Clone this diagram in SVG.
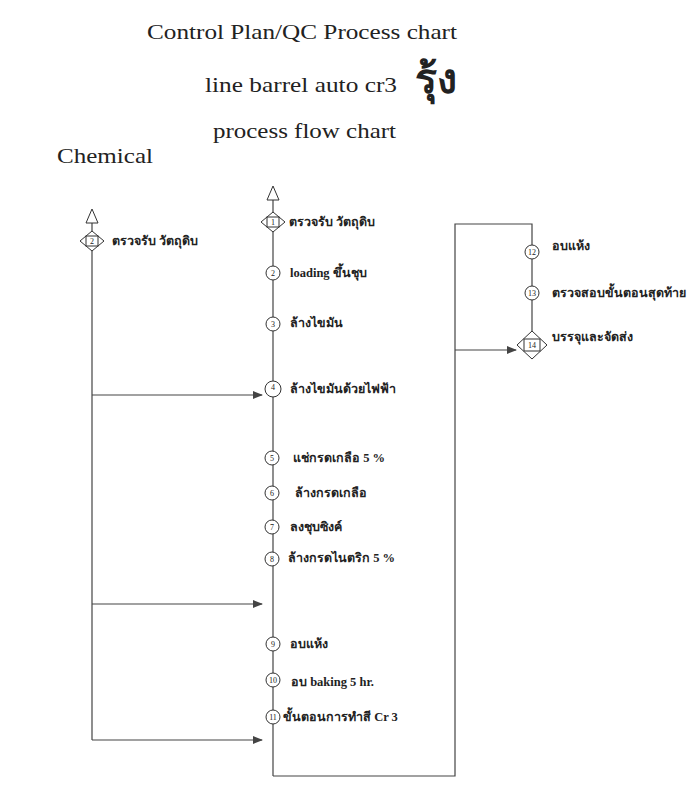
<svg xmlns="http://www.w3.org/2000/svg" width="694" height="787" viewBox="0 0 694 787">
<style>
.title{font-family:"Liberation Serif","Noto Sans CJK SC",serif;fill:#222}
.lbl{font-family:"Liberation Serif","Noto Sans CJK SC",serif;font-size:12.5px;font-weight:bold;fill:#222}
.num{font-family:"Liberation Serif",serif;font-size:8px;fill:#222;text-anchor:middle}
.ln{stroke:#444;stroke-width:1.2;fill:none}
.shp{stroke:#333;stroke-width:1;fill:#fff}
</style>
<defs>
<marker id="ah" markerWidth="10" markerHeight="8" refX="9" refY="4" orient="auto" markerUnits="userSpaceOnUse">
<path d="M0,0 L10,4 L0,8 Z" fill="#444"/>
</marker>
</defs>
<rect width="694" height="787" fill="#fff"/>
<g id="titles">
<text class="title" x="147" y="39" font-size="21" textLength="310" lengthAdjust="spacingAndGlyphs">Control Plan/QC Process chart</text>
<text class="title" x="205" y="92" font-size="21" textLength="192" lengthAdjust="spacingAndGlyphs">line barrel auto cr3</text>
<text class="title" x="415" y="93" font-size="41" font-weight="bold" fill="#000">รุ้ง</text>
<text class="title" x="213" y="138" font-size="21" textLength="183" lengthAdjust="spacingAndGlyphs">process flow chart</text>
<text class="title" x="57" y="163" font-size="21" textLength="96" lengthAdjust="spacingAndGlyphs">Chemical</text>
</g>
<g id="connectors">
<line class="ln" x1="92" y1="223" x2="92" y2="231"/>
<line class="ln" x1="92" y1="251" x2="92" y2="740"/>
<line class="ln" x1="92" y1="395" x2="262" y2="395" marker-end="url(#ah)"/>
<line class="ln" x1="92" y1="604" x2="262" y2="604" marker-end="url(#ah)"/>
<line class="ln" x1="92" y1="740" x2="262" y2="740" marker-end="url(#ah)"/>
<line class="ln" x1="273" y1="200" x2="273" y2="776"/>
<polyline class="ln" points="273,776 455,776 455,224 532,224 532,245"/>
<line class="ln" x1="532" y1="259" x2="532" y2="331"/>
<line class="ln" x1="455" y1="350" x2="516" y2="350" marker-end="url(#ah)"/>
</g>
<g id="start-chem"><polygon class="shp" points="92,209 86,223 98,223"/></g>
<g id="start-main"><polygon class="shp" points="273,186 267,200 279,200"/></g>
<g id="n-chem2">
<polygon class="shp" points="80,241 92,231 104,241 92,251"/>
<rect class="shp" x="86" y="236" width="12" height="10"/>
<text class="num" x="92" y="244">2</text>
<text class="lbl" x="112" y="245">ตรวจรับ วัตถุดิบ</text>
</g>
<g id="n1">
<polygon class="shp" points="261,222 273,212 285,222 273,232"/>
<rect class="shp" x="267" y="217" width="12" height="10"/>
<text class="num" x="273" y="225">1</text>
<text class="lbl" x="289" y="226">ตรวจรับ วัตถุดิบ</text>
</g>
<g id="n2"><circle class="shp" cx="273" cy="273" r="7"/><text class="num" x="273" y="276">2</text><text class="lbl" x="290" y="277">loading ขึ้นชุบ</text></g>
<g id="n3"><circle class="shp" cx="273" cy="324" r="7"/><text class="num" x="273" y="327">3</text><text class="lbl" x="290" y="327">ล้างไขมัน</text></g>
<g id="n4"><circle class="shp" cx="273" cy="389" r="8"/><text class="num" x="273" y="390">4</text><text class="lbl" x="290" y="393">ล้างไขมันด้วยไฟฟ้า</text></g>
<g id="n5"><circle class="shp" cx="272" cy="458" r="7"/><text class="num" x="272" y="461">5</text><text class="lbl" x="293" y="462">แช่กรดเกลือ 5 %</text></g>
<g id="n6"><circle class="shp" cx="272" cy="493" r="7"/><text class="num" x="272" y="496">6</text><text class="lbl" x="295" y="497">ล้างกรดเกลือ</text></g>
<g id="n7"><circle class="shp" cx="272" cy="527" r="7"/><text class="num" x="272" y="530">7</text><text class="lbl" x="290" y="531">ลงชุบซิงค์</text></g>
<g id="n8"><circle class="shp" cx="272" cy="559" r="7"/><text class="num" x="272" y="562">8</text><text class="lbl" x="288" y="562">ล้างกรดไนตริก 5 %</text></g>
<g id="n9"><circle class="shp" cx="273" cy="644" r="7"/><text class="num" x="273" y="647">9</text><text class="lbl" x="290" y="648">อบแห้ง</text></g>
<g id="n10"><circle class="shp" cx="273" cy="680" r="7"/><text class="num" x="273" y="683">10</text><text class="lbl" x="291" y="686">อบ baking 5 hr.</text></g>
<g id="n11"><circle class="shp" cx="273" cy="717" r="7"/><text class="num" x="273" y="720">11</text><text class="lbl" x="283" y="721">ขั้นตอนการทำสี Cr 3</text></g>
<g id="n12"><circle class="shp" cx="532" cy="252" r="7"/><text class="num" x="532" y="255">12</text><text class="lbl" x="552" y="250">อบแห้ง</text></g>
<g id="n13"><circle class="shp" cx="532" cy="293" r="7"/><text class="num" x="532" y="296">13</text><text class="lbl" x="552" y="297">ตรวจสอบขั้นตอนสุดท้าย</text></g>
<g id="n14">
<polygon class="shp" points="517,345 532,331 547,345 532,359"/>
<rect class="shp" x="524" y="339" width="16" height="12"/>
<text class="num" x="532" y="348">14</text>
<text class="lbl" x="552" y="341">บรรจุและจัดส่ง</text>
</g>
</svg>
